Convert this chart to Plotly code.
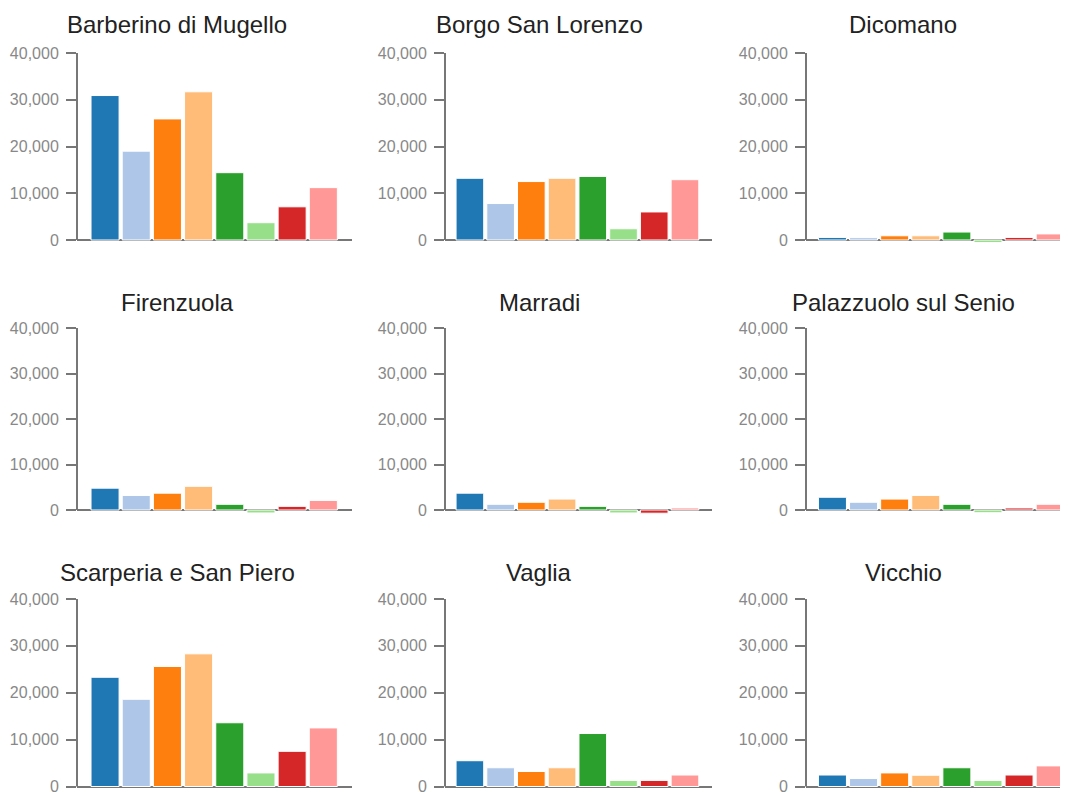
import plotly.graph_objects as go

towns = ['Barberino di Mugello', 'Borgo San Lorenzo', 'Dicomano',
         'Firenzuola', 'Marradi', 'Palazzuolo sul Senio',
         'Scarperia e San Piero', 'Vaglia', 'Vicchio']
groups = ['g1', 'g2', 'g3', 'g4', 'g5', 'g6', 'g7', 'g8']

barberino = [30900, 19000, 25900, 31700, 14400, 3700, 7100, 11200]
borgo = [13200, 7800, 12500, 13200, 13600, 2400, 6000, 12900]
dicomano = [550, 500, 900, 900, 1700, -550, 550, 1300]
firenzuola = [4800, 3200, 3700, 5200, 1250, -650, 800, 2100]
marradi = [3700, 1250, 1700, 2400, 800, -650, -700, 450]
palazzuolo = [2800, 1700, 2400, 3200, 1250, -600, 450, 1250]
scarperia = [23300, 18600, 25600, 28300, 13600, 2900, 7500, 12500]
vaglia = [5500, 4000, 3200, 4000, 11300, 1300, 1300, 2450]
vicchio = [2450, 1700, 2900, 2400, 4000, 1300, 2450, 4400]

values = [barberino, borgo, dicomano, firenzuola, marradi, palazzuolo,
          scarperia, vaglia, vicchio]
colours = ['#1f77b4', '#aec7e8', '#ff7f0e', '#ffbb78',
           '#2ca02c', '#98df8a', '#d62728', '#ff9896']

W, H = 1068, 792
OFF = 8   # page body margin
YMIN, YMAX = -1000, 40000

# screen pixel layout: axis left, axis right, category range
cols = [(77, 352, [-0.9, 7.92]), (445, 712, [-0.81, 7.88]), (806, 1076, [-0.85, 7.83])]
rows = [(53, 240), (328, 510), (599, 786.5)]   # y of 40,000 and of 0
title_x = [177, 539, 903]
title_y = [25, 302, 572]

axis_col = '#777777'
font = 'Arial, Liberation Sans, sans-serif'


def px_x(p):
    return min((p - OFF) / W, 1)


def px_y(p):
    return max(1 - (p - OFF) / H, 0)


fig = go.Figure()

for i in range(9):
    r, c = divmod(i, 3)
    n = i + 1
    xa = 'x' if n == 1 else f'x{n}'
    ya = 'y' if n == 1 else f'y{n}'
    fig.add_trace(go.Bar(
        x=groups, y=values[i], xaxis=xa, yaxis=ya,
        marker=dict(color=colours, line=dict(color='white', width=1)),
        showlegend=False, hoverinfo='y'
    ))

    left, right, xr = cols[c]
    top, zero = rows[r]
    ppu = (zero - top) / YMAX
    bottom = zero - YMIN * ppu
    xkey = 'xaxis' if n == 1 else f'xaxis{n}'
    ykey = 'yaxis' if n == 1 else f'yaxis{n}'
    fig.update_layout({
        xkey: dict(domain=[px_x(left), px_x(right)], range=xr, anchor=ya,
                   showticklabels=False, showgrid=False, zeroline=False,
                   showline=False, ticks='', fixedrange=True),
        ykey: dict(domain=[px_y(bottom), px_y(top)], range=[YMIN, YMAX],
                   anchor=xa, showgrid=False, showline=False, automargin=False,
                   zeroline=True, zerolinecolor=axis_col, zerolinewidth=2,
                   tickvals=[0, 10000, 20000, 30000, 40000],
                   ticktext=['0', '10,000', '20,000', '30,000', '40,000'],
                   ticks='outside', ticklen=10, tickwidth=2, tickcolor=axis_col,
                   ticklabelstandoff=4,
                   tickfont=dict(size=16, color='#888888', family=font),
                   fixedrange=True),
    })
    # y axis line only from 0 up to 40,000
    fig.add_shape(type='line', xref=f'{xa} domain', yref=ya,
                  x0=0, x1=0, y0=0, y1=YMAX,
                  line=dict(color=axis_col, width=2))
    fig.add_annotation(text=towns[i], xref='paper', yref='paper',
                       x=px_x(title_x[c]), y=px_y(title_y[r]),
                       xanchor='center', yanchor='middle', showarrow=False,
                       font=dict(size=24, color='#222222', family=font))

fig.update_layout(width=W, height=H, margin=dict(l=0, r=0, t=0, b=0),
                  paper_bgcolor='white', plot_bgcolor='white', bargap=0.1)

fig.write_html("out.html")
